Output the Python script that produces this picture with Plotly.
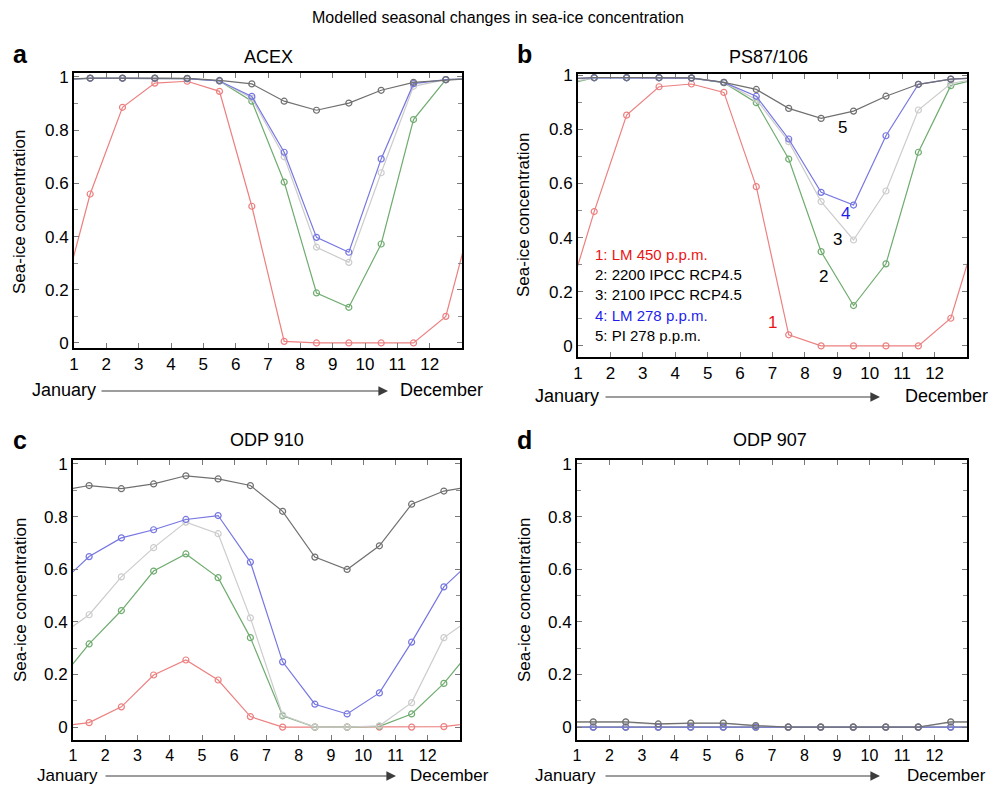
import plotly.graph_objects as go

# ---------------- data ----------------
months = list(range(1, 13))
tick_labels = [str(m) for m in months]

series_names = ["LM 450 p.p.m.", "2200 IPCC RCP4.5", "2100 IPCC RCP4.5", "LM 278 p.p.m.", "PI 278 p.p.m."]
series_colors = ["rgb(236,128,128)", "rgb(112,172,112)", "rgb(204,204,204)", "rgb(118,118,226)", "rgb(112,112,112)"]

# Panel a: ACEX
acex_1 = [0.56, 0.886, 0.977, 0.984, 0.946, 0.514, 0.006, 0.0, 0.0, 0.0, 0.0, 0.10]
acex_2 = [0.995, 0.995, 0.995, 0.994, 0.985, 0.909, 0.605, 0.188, 0.134, 0.372, 0.84, 0.99]
acex_3 = [0.995, 0.995, 0.995, 0.994, 0.985, 0.92, 0.70, 0.36, 0.303, 0.64, 0.965, 0.99]
acex_4 = [0.995, 0.995, 0.995, 0.994, 0.985, 0.927, 0.717, 0.397, 0.341, 0.692, 0.975, 0.99]
acex_5 = [0.996, 0.996, 0.996, 0.995, 0.987, 0.974, 0.909, 0.875, 0.902, 0.95, 0.98, 0.99]

# Panel b: PS87/106
ps87_1 = [0.496, 0.852, 0.957, 0.967, 0.936, 0.588, 0.041, 0.0, 0.0, 0.0, 0.0, 0.102]
ps87_2 = [0.99, 0.99, 0.99, 0.989, 0.972, 0.898, 0.69, 0.348, 0.149, 0.303, 0.715, 0.961]
ps87_3 = [0.99, 0.99, 0.99, 0.989, 0.972, 0.91, 0.754, 0.533, 0.391, 0.572, 0.871, 0.969]
ps87_4 = [0.99, 0.99, 0.99, 0.989, 0.973, 0.922, 0.764, 0.567, 0.52, 0.776, 0.966, 0.985]
ps87_5 = [0.991, 0.991, 0.991, 0.99, 0.973, 0.947, 0.877, 0.84, 0.867, 0.922, 0.966, 0.985]

# Panel c: ODP 910
odp910_1 = [0.017, 0.077, 0.198, 0.255, 0.179, 0.04, 0.0, 0.0, 0.0, 0.0, 0.0, 0.002]
odp910_2 = [0.316, 0.443, 0.593, 0.658, 0.568, 0.34, 0.043, 0.0, 0.0, 0.003, 0.05, 0.166]
odp910_3 = [0.427, 0.571, 0.682, 0.779, 0.735, 0.415, 0.046, 0.0, 0.0, 0.005, 0.093, 0.34]
odp910_4 = [0.648, 0.719, 0.75, 0.789, 0.804, 0.627, 0.248, 0.087, 0.05, 0.13, 0.323, 0.533]
odp910_5 = [0.918, 0.906, 0.924, 0.955, 0.943, 0.918, 0.82, 0.646, 0.599, 0.689, 0.847, 0.897]

# Panel d: ODP 907
odp907_1 = [0.0] * 12
odp907_2 = [0.0] * 12
odp907_3 = [0.018, 0.018, 0.01, 0.014, 0.014, 0.005, 0.0, 0.0, 0.0, 0.0, 0.0, 0.018]
odp907_4 = [0.0] * 12
odp907_5 = [0.02, 0.02, 0.012, 0.015, 0.015, 0.006, 0.0, 0.0, 0.0, 0.0, 0.0, 0.02]

panels = [
    ("ACEX", [acex_1, acex_2, acex_3, acex_4, acex_5]),
    ("PS87/106", [ps87_1, ps87_2, ps87_3, ps87_4, ps87_5]),
    ("ODP 910", [odp910_1, odp910_2, odp910_3, odp910_4, odp910_5]),
    ("ODP 907", [odp907_1, odp907_2, odp907_3, odp907_4, odp907_5]),
]

# ---------------- layout geometry ----------------
W, H = 997, 785
OFF = 8  # page body margin offset
FONT = "Liberation Sans, Arial, sans-serif"


def px(x):
    return (x - OFF) / W


def py(y):
    return 1 - (y - OFF) / H


# (left, right, top, bottom) in pixels, y-range, x tick font size
boxes = [
    (74, 462, 73, 348, [-0.019, 1.015], 17),
    (578, 967, 74, 357, [-0.041, 1.004], 17),
    (73, 460, 460, 740, [-0.049, 1.015], 16),
    (577, 967, 460, 740, [-0.049, 1.015], 16),
]

fig = go.Figure()

for i, ((title, data), (l, r, t, b, yr, xfs)) in enumerate(zip(panels, boxes)):
    n = i + 1
    xa = "x" if n == 1 else f"x{n}"
    ya = "y" if n == 1 else f"y{n}"
    for k, vals in enumerate(data):
        # mid-month positions, wrapped cyclically so lines run to the frame
        xs = [months[0] - 0.5] + [m + 0.5 for m in months] + [months[-1] + 1.5]
        ys = [vals[-1]] + list(vals) + [vals[0]]
        fig.add_trace(go.Scatter(
            x=xs, y=ys, mode="lines+markers", xaxis=xa, yaxis=ya,
            name=series_names[k], showlegend=False,
            line=dict(color=series_colors[k], width=1.2),
            marker=dict(symbol="circle-open", size=6, color=series_colors[k],
                        line=dict(width=1.2, color=series_colors[k])),
            cliponaxis=True,
        ))
    axis_common = dict(showline=True, linecolor="black", linewidth=2, mirror="ticks",
                       ticks="inside", tickcolor="rgb(120,120,120)", ticklen=5, tickwidth=1,
                       showgrid=False, zeroline=False, automargin=False)
    fig.layout[("xaxis" if n == 1 else f"xaxis{n}")] = dict(
        domain=[px(l), px(r)], anchor=ya, range=[1, 13],
        tickvals=months, ticktext=tick_labels,
        tickfont=dict(family=FONT, size=xfs, color="black"), **axis_common)
    fig.layout[("yaxis" if n == 1 else f"yaxis{n}")] = dict(
        domain=[py(b), py(t)], anchor=xa, range=yr,
        tickvals=[0, 0.2, 0.4, 0.6, 0.8, 1], ticktext=["0", "0.2", "0.4", "0.6", "0.8", "1"],
        minor=dict(dtick=0.1, ticks="inside", ticklen=4, tickcolor="rgb(140,140,140)"),
        tickfont=dict(family=FONT, size=17, color="black"), **axis_common)

ann = []


def text_ann(x, y, text, size, color="black", xanchor="center", angle=0):
    return dict(x=px(x), y=py(y), xref="paper", yref="paper", text=text, showarrow=False,
                xanchor=xanchor, yanchor="middle", textangle=angle,
                font=dict(family=FONT, size=size, color=color))


# main title
ann.append(text_ann(498, 18, "Modelled seasonal changes in sea-ice concentration", 16))
letters = [("a", 20, 54), ("b", 524, 54), ("c", 20, 440), ("d", 524, 440)]
for txt, x, y in letters:
    ann.append(text_ann(x, y, f"<b>{txt}</b>", 25))
title_pos = [(268, 57), (768, 57), (267, 440), (770, 440)]
for (title, _), (x, y) in zip(panels, title_pos):
    ann.append(text_ann(x, y, title, 18))
# y axis titles
ytitle_pos = [(20, 212), (524, 215), (20, 600), (524, 600)]
for x, y in ytitle_pos:
    ann.append(text_ann(x, y, "Sea-ice concentration", 17, angle=-90))
# January -> December arrows
arrow_rows = [(30, 100, 388, 398, 390, 18), (533, 604, 880, 903, 396, 18),
              (35, 104, 396, 408, 775, 17), (533, 604, 880, 905, 775, 17)]
for jx, a0, a1, dx, y, fs in arrow_rows:
    ann.append(text_ann(jx, y, "January", fs, xanchor="left"))
    ann.append(text_ann(dx, y, "December", fs, xanchor="left"))
    ann.append(dict(x=px(a1), y=py(y + 1), xref="paper", yref="paper", text="", showarrow=True,
                    ax=-(a1 - a0), ay=0, arrowhead=2, arrowsize=1.6, arrowwidth=1.2,
                    arrowcolor="rgb(60,60,60)"))
# panel b legend and curve numbers
legend_lines = [("1: LM 450 p.p.m.", "rgb(235,20,20)"), ("2: 2200 IPCC RCP4.5", "black"),
                ("3: 2100 IPCC RCP4.5", "black"), ("4: LM 278 p.p.m.", "rgb(30,30,235)"),
                ("5: PI 278 p.p.m.", "black")]
for j, (txt, col) in enumerate(legend_lines):
    ann.append(text_ann(593, 255 + 20 * j, txt, 15, color=col, xanchor="left"))
curve_nums = [("5", 842, 128, "black"), ("4", 845, 214, "rgb(30,30,235)"), ("3", 837, 240, "black"),
              ("2", 823, 277, "black"), ("1", 772, 322, "rgb(235,20,20)")]
for txt, x, y, col in curve_nums:
    ann.append(text_ann(x, y, txt, 17, color=col))

fig.update_layout(
    width=W, height=H, margin=dict(l=0, r=0, t=0, b=0, autoexpand=False),
    paper_bgcolor="white", plot_bgcolor="white",
    annotations=ann, showlegend=False,
    font=dict(family=FONT, color="black"),
)

fig.write_html("out.html")
